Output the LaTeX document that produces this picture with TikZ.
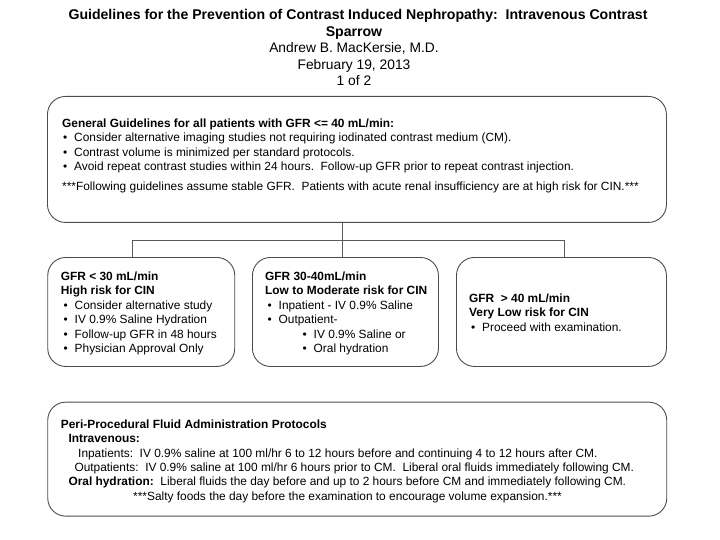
\documentclass[tikz,border=0pt]{standalone}
\usepackage{fontspec}
\setmainfont{Liberation Sans}
\frenchspacing
\tikzset{
  box/.style={draw=black!70, line width=0.9pt, rounded corners=18pt, anchor=north west, inner sep=0pt},
  conn/.style={draw=black!65, line width=0.9pt},
  txt/.style={anchor=base west, inner sep=0pt, font=\fontsize{11.9}{14}\selectfont},
  btxt/.style={txt, font=\fontsize{11.9}{14}\selectfont\bfseries},
  ttl/.style={anchor=base, inner sep=0pt, font=\fontsize{13.8}{16}\selectfont},
  bttl/.style={ttl, font=\fontsize{14.1}{16}\selectfont\bfseries},
}
\newcommand{\bul}{\makebox[11pt][l]{\textbullet}}
\begin{document}
\begin{tikzpicture}[x=1pt,y=-1pt]
\useasboundingbox (0,0) rectangle (720,540);
% title
\node[bttl] (t1) at (358,19.5) {Guidelines for the Prevention of Contrast Induced Nephropathy:~ Intravenous Contrast};
\node[bttl] (t2) at (354,36.5) {Sparrow};
\node[ttl] (t3) at (354,52.5) {Andrew B. MacKersie, M.D.};
\node[ttl] (t4) at (354,69.5) {February 19, 2013};
\node[ttl] (t5) at (354,85.5) {1 of 2};
% boxes
\node[box, minimum width=619pt, minimum height=126pt] (top) at (47,96) {};
\node[box, minimum width=187pt, minimum height=109pt] (b1) at (47.3,257) {};
\node[box, minimum width=186pt, minimum height=109pt] (b2) at (252,257) {};
\node[box, minimum width=210pt, minimum height=109pt] (b3) at (456,257) {};
\node[box, minimum width=619pt, minimum height=114pt] (bot) at (47.3,401.7) {};
% connectors
\coordinate (j) at (342,240);
\coordinate (c1) at (132,240);
\coordinate (c3) at (564,240);
\draw[conn] (top.south -| j) -- (j);
\draw[conn] (c1) -- (c3);
\draw[conn] (c1) -- (b1.north -| c1);
\draw[conn] (j) -- (b2.north -| j);
\draw[conn] (c3) -- (b3.north -| c3);
% top box text
\node[btxt] (g0) at (62,127.5) {General Guidelines for all patients with GFR <= 40 mL/min:};
\node[txt] (g1) at (63,142) {\bul Consider alternative imaging studies not requiring iodinated contrast medium (CM).};
\node[txt] (g2) at (63,156.5) {\bul Contrast volume is minimized per standard protocols.};
\node[txt] (g3) at (63,171) {\bul Avoid repeat contrast studies within 24 hours.~ Follow-up GFR prior to repeat contrast injection.};
\node[txt] (g4) at (62,191) {***Following guidelines assume stable GFR.~ Patients with acute renal insufficiency are at high risk for CIN.***};
% box 1
\node[btxt] (a0) at (60.7,280.3) {GFR < 30 mL/min};
\node[btxt] (a1) at (60.7,294.3) {High risk for CIN};
\node[txt] (a2) at (63.5,309.3) {\bul Consider alternative study};
\node[txt] (a3) at (63.5,323.6) {\bul IV 0.9\% Saline Hydration};
\node[txt] (a4) at (63.5,338) {\bul Follow-up GFR in 48 hours};
\node[txt] (a5) at (63.5,352.3) {\bul Physician Approval Only};
% box 2
\node[btxt] (m0) at (265,280.3) {GFR 30-40mL/min};
\node[btxt] (m1) at (265,294.3) {Low to Moderate risk for CIN};
\node[txt] (m2) at (267.5,309.3) {\bul Inpatient - IV 0.9\% Saline};
\node[txt] (m3) at (267.5,323.6) {\bul Outpatient-};
\node[txt] (m4) at (302.5,338) {\bul IV 0.9\% Saline or};
\node[txt] (m5) at (302.5,352.3) {\bul Oral hydration};
% box 3
\node[btxt] (h0) at (469,302.6) {GFR~ > 40 mL/min};
\node[btxt] (h1) at (469,316.3) {Very Low risk for CIN};
\node[txt] (h2) at (471,331) {\bul Proceed with examination.};
% bottom box
\node[btxt] (p0) at (60.7,428.3) {Peri-Procedural Fluid Administration Protocols};
\node[btxt] (p1) at (68.3,442.6) {Intravenous:};
\node[txt] (p2) at (78,457) {Inpatients:~ IV 0.9\% saline at 100 ml/hr 6 to 12 hours before and continuing 4 to 12 hours after CM.};
\node[txt] (p3) at (74.3,471) {Outpatients:~ IV 0.9\% saline at 100 ml/hr 6 hours prior to CM.~ Liberal oral fluids immediately following CM.};
\node[txt] (p4) at (68.3,485.3) {\textbf{Oral hydration:}~ Liberal fluids the day before and up to 2 hours before CM and immediately following CM.};
\node[txt] (p5) at (133,500) {***Salty foods the day before the examination to encourage volume expansion.***};
\end{tikzpicture}
\end{document}
